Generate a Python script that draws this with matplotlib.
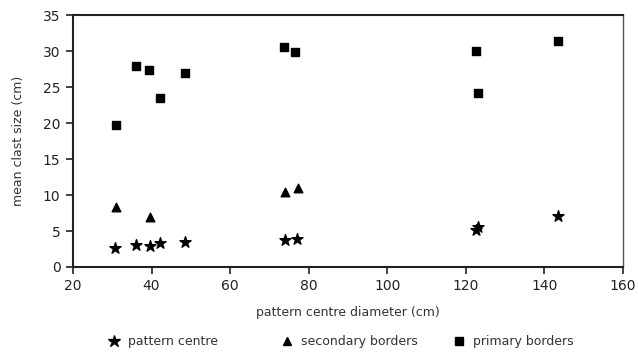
import matplotlib.pyplot as plt
from matplotlib.lines import Line2D

plt.rcParams['font.family'] = ['DejaVu Sans']

# primary borders (squares)
prim_x = [31.0, 36.1, 39.3, 42.1, 48.5, 73.7, 76.6, 122.5, 123.0, 143.5]
prim_y = [19.7, 27.9, 27.3, 23.5, 27.0, 30.5, 29.8, 30.0, 24.2, 31.4]

# secondary borders (triangles)
sec_x = [31.0, 39.7, 74.0, 77.3]
sec_y = [8.3, 7.0, 10.4, 11.0]

# pattern centre (stars)
cen_x = [30.8, 36.1, 39.5, 42.2, 48.5, 73.9, 77.1, 122.6, 123.2, 143.5]
cen_y = [2.7, 3.1, 2.9, 3.4, 3.5, 3.8, 3.9, 5.2, 5.5, 7.1]

labels = ['pattern centre', 'secondary borders', 'primary borders']

fig = plt.figure(figsize=(6.38, 3.58), dpi=100)
ax = fig.add_axes([0.1144, 0.2542, 0.862, 0.7038])

ax.scatter(cen_x, cen_y, marker='*', s=70, color='black', zorder=3)
ax.scatter(sec_x, sec_y, marker='^', s=38, color='black', zorder=3)
ax.scatter(prim_x, prim_y, marker='s', s=36, color='black', zorder=3)

ax.set_xlim(20, 160)
ax.set_ylim(0, 35)
ax.set_xticks(range(20, 161, 20))
ax.set_yticks(range(0, 36, 5))
ax.tick_params(direction='out', length=5, width=1.2, pad=4, labelsize=10, colors='#222222')
for side in ['left', 'bottom', 'top']:
    ax.spines[side].set_linewidth(1.5)
    ax.spines[side].set_color('#222222')
ax.spines['right'].set_linewidth(1.0)
ax.spines['right'].set_color('#555555')

ax.set_xlabel('pattern centre diameter (cm)', fontsize=9, color='#333333', labelpad=9)
ax.set_ylabel('mean clast size (cm)', fontsize=9, color='#333333', labelpad=13)

# legend, one entry per position as in the original
handles = [
    Line2D([], [], marker='*', color='black', linestyle='none', markersize=9),
    Line2D([], [], marker='^', color='black', linestyle='none', markersize=6),
    Line2D([], [], marker='s', color='black', linestyle='none', markersize=6),
]
leg_x = [108, 281, 453]
for h, lab, x0 in zip(handles, labels, leg_x):
    lg = fig.legend([h], [lab], loc='center left', bbox_to_anchor=(x0 / 638, 0.045),
                    frameon=False, fontsize=9, handlelength=1.0, handletextpad=0.6,
                    borderpad=0, borderaxespad=0, labelcolor='#333333')

fig.savefig('out.png', dpi=100)
